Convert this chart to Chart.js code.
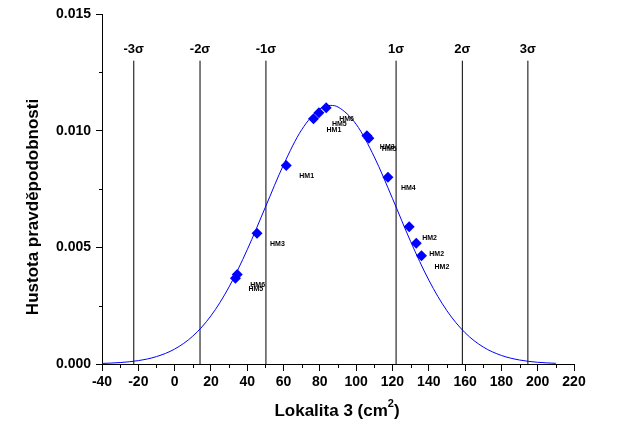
<!DOCTYPE html>
<html>
<head>
<meta charset="utf-8">
<script src="https://cdn.jsdelivr.net/npm/chart.js@4/dist/chart.umd.min.js"></script>
<style>
  html, body { margin: 0; padding: 0; background: #fff; }
  canvas { display: block; }
</style>
</head>
<body>
<canvas id="c" width="621" height="428"></canvas>
<script>
// Fitted normal density curve (x in cm², y density)
const curveX = [-40, -30, -20, -10, 0, 10, 20, 30, 40, 50, 60, 70, 80, 86, 90, 100, 110, 120, 130, 140, 150, 160, 170, 180, 190, 200, 210];
const curveY = [0.0000242, 0.0000617, 0.000145, 0.000317, 0.000639, 0.001194, 0.002063, 0.003305, 0.004898, 0.006722, 0.008538, 0.010041, 0.010929, 0.011082, 0.011014, 0.010275, 0.008874, 0.007095, 0.005251, 0.003598, 0.002282, 0.001340, 0.000728, 0.000367, 0.000171, 0.0000736, 0.0000294];

// Observed samples
const sampleX = [33.5, 34.5, 45.4, 61.5, 76.5, 79.5, 83.5, 105.9, 107.0, 117.5, 129.2, 133.1, 136.0];
const sampleY = [0.00368, 0.00384, 0.00560, 0.00851, 0.01051, 0.01077, 0.01098, 0.00978, 0.00967, 0.00800, 0.00588, 0.00517, 0.00464];
const sampleLabels = ['HM5', 'HM6', 'HM3', 'HM1', 'HM1', 'HM5', 'HM6', 'HM3', 'HM5', 'HM4', 'HM2', 'HM2', 'HM2'];

// Standard deviation markers
const sigmaX = [-22.5, 14, 50.3, 122, 158.5, 194.6];
const sigmaLabels = ['-3σ', '-2σ', '-1σ', '1σ', '2σ', '3σ'];
const sigmaTop = 0.013;
const sigmaLabelY = 0.0135;

// Axis ticks
const xMin = -40, xMax = 220, xStep = 20;
const yMin = 0, yMax = 0.015, yStep = 0.005;
const xMinorTicks = [-30, -10, 10, 30, 50, 70, 90, 110, 130, 150, 170, 190, 210];
const yMinorTicks = [0.0025, 0.0075, 0.0125];

const xTitle = 'Lokalita 3 (cm';
const xTitleSup = '2';
const yTitle = 'Hustota pravděpodobnosti';

const BLUE = '#0000ff';
const FONT = '"Liberation Sans", Arial, sans-serif';

const datasets = [];
datasets.push({
  label: 'density',
  data: curveX.map((x, i) => ({ x, y: curveY[i] })),
  showLine: true,
  borderColor: BLUE,
  borderWidth: 1,
  pointRadius: 0,
  fill: false,
  cubicInterpolationMode: 'monotone',
  order: 2
});
sigmaX.forEach((x, i) => {
  datasets.push({
    label: sigmaLabels[i],
    data: [{ x, y: 0 }, { x, y: sigmaTop }],
    showLine: true,
    borderColor: '#000',
    borderWidth: 1,
    pointRadius: 0,
    fill: false,
    order: 3
  });
});
datasets.push({
  label: 'samples',
  data: sampleX.map((x, i) => ({ x, y: sampleY[i] })),
  showLine: false,
  pointStyle: 'rectRot',
  pointRadius: 5.5,
  pointBackgroundColor: BLUE,
  pointBorderColor: BLUE,
  pointBorderWidth: 0,
  order: 1
});

const extras = {
  id: 'extras',
  afterDraw(chart) {
    const ctx = chart.ctx;
    const xs = chart.scales.x, ys = chart.scales.y;
    const area = chart.chartArea;
    ctx.save();

    // minor ticks
    ctx.strokeStyle = '#000';
    ctx.lineWidth = 1;
    ctx.beginPath();
    xMinorTicks.forEach(v => {
      const px = Math.round(xs.getPixelForValue(v)) + 0.5;
      ctx.moveTo(px, area.bottom);
      ctx.lineTo(px, area.bottom + 4);
    });
    yMinorTicks.forEach(v => {
      const py = Math.round(ys.getPixelForValue(v)) + 0.5;
      ctx.moveTo(area.left, py);
      ctx.lineTo(area.left - 3, py);
    });
    ctx.stroke();

    // sigma labels
    ctx.fillStyle = '#000';
    ctx.font = 'bold 13px ' + FONT;
    ctx.textAlign = 'center';
    ctx.textBaseline = 'middle';
    sigmaX.forEach((x, i) => {
      ctx.fillText(sigmaLabels[i], xs.getPixelForValue(x), ys.getPixelForValue(sigmaLabelY));
    });

    // sample labels
    ctx.font = 'bold 7px ' + FONT;
    ctx.textAlign = 'left';
    sampleX.forEach((x, i) => {
      ctx.fillText(sampleLabels[i], xs.getPixelForValue(x) + 13, ys.getPixelForValue(sampleY[i]) + 11);
    });

    // axis titles
    ctx.font = 'bold 17px ' + FONT;
    ctx.textBaseline = 'middle';
    const w1 = ctx.measureText(xTitle).width;
    ctx.font = 'bold 11px ' + FONT;
    const w2 = ctx.measureText(xTitleSup).width;
    ctx.font = 'bold 17px ' + FONT;
    const w3 = ctx.measureText(')').width;
    const cx = 337;
    let sx = cx - (w1 + w2 + w3) / 2;
    const ty = 411;
    ctx.fillText(xTitle, sx, ty);
    ctx.font = 'bold 11px ' + FONT;
    ctx.fillText(xTitleSup, sx + w1, ty - 7);
    ctx.font = 'bold 17px ' + FONT;
    ctx.fillText(')', sx + w1 + w2, ty);

    ctx.translate(33, 207);
    ctx.rotate(-Math.PI / 2);
    ctx.textAlign = 'center';
    ctx.fillText(yTitle, 0, 0);
    ctx.restore();
  }
};

new Chart(document.getElementById('c'), {
  type: 'scatter',
  data: { datasets },
  options: {
    responsive: false,
    animation: false,
    devicePixelRatio: 1,
    layout: { padding: { left: 0, right: 47, top: 14, bottom: 0 } },
    plugins: { legend: { display: false }, tooltip: { enabled: false } },
    scales: {
      x: {
        type: 'linear',
        min: xMin, max: xMax,
        afterFit(scale) { scale.height = 64; },
        ticks: {
          stepSize: xStep,
          color: '#000',
          padding: 3,
          maxRotation: 0,
          font: { family: FONT, size: 14, weight: 'bold' }
        },
        grid: { drawOnChartArea: false, drawTicks: true, tickLength: 7, color: '#000', tickColor: '#000' },
        border: { display: true, color: '#000', width: 1 }
      },
      y: {
        type: 'linear',
        min: yMin, max: yMax,
        afterFit(scale) { scale.width = 102; },
        ticks: {
          stepSize: yStep,
          color: '#000',
          padding: 5,
          callback: v => v.toFixed(3),
          font: { family: FONT, size: 14, weight: 'bold' }
        },
        grid: { drawOnChartArea: false, drawTicks: true, tickLength: 6, color: '#000', tickColor: '#000' },
        border: { display: true, color: '#000', width: 1 }
      }
    }
  },
  plugins: [extras]
});
</script>
</body>
</html>
